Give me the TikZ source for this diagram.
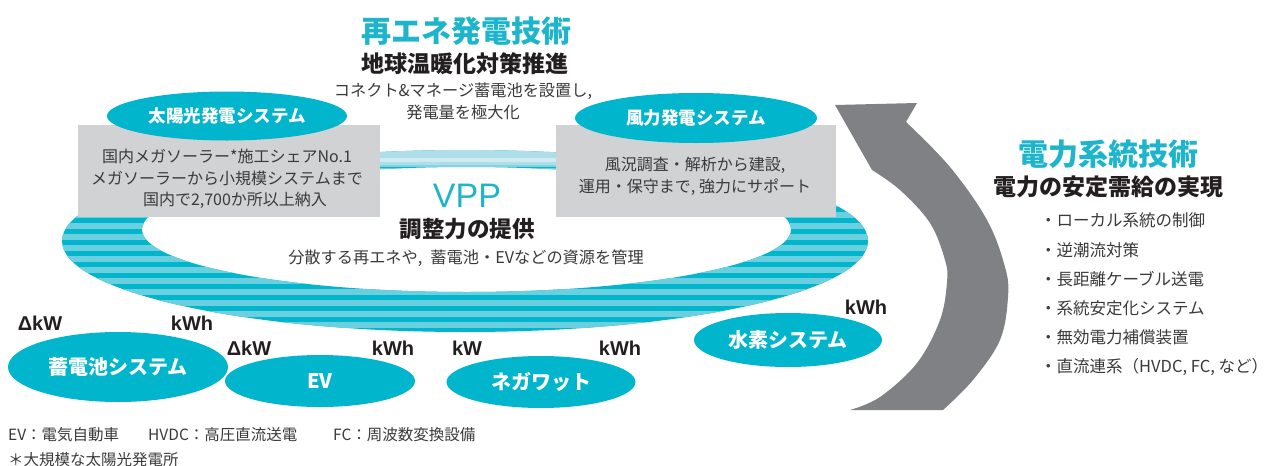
\documentclass[tikz,border=0pt]{standalone}
\usepackage{fontspec}
\setmainfont{Noto Sans CJK JP}
\newfontfamily\latinsans{Liberation Sans}
\usetikzlibrary{shapes.geometric}
\definecolor{teal1}{HTML}{00B5CC}
\definecolor{teallight}{HTML}{6ACFDF}
\definecolor{titleteal}{HTML}{1DB5CB}
\definecolor{boxgray}{HTML}{D1D2D4}
\definecolor{arrowgray}{HTML}{808184}
\definecolor{txt}{HTML}{3A3A3A}
\definecolor{darktxt}{HTML}{231F20}
\definecolor{bandlight}{HTML}{B0DEE8}
\definecolor{bandlighter}{HTML}{CDEBF1}
\definecolor{bandedge}{HTML}{86D2E0}
\begin{document}
\begin{tikzpicture}[x=1pt,y=-1pt,
  pill/.style={ellipse, fill=teal1, text=white, inner sep=0pt, font=\bfseries\fontsize{#1}{#1}\selectfont},
  graybox/.style={fill=boxgray, inner sep=0pt, anchor=north west},
  boxtext/.style={text=txt, align=center, inner sep=0pt, font=\fontsize{16}{21.5}\selectfont},
  bigtitle/.style={text=titleteal, inner sep=0pt, font=\bfseries\fontsize{30}{30}\selectfont},
  subtitle/.style={text=darktxt, inner sep=0pt, font=\bfseries\fontsize{23}{23}\selectfont},
  bodytext/.style={text=txt, inner sep=0pt, align=center, font=\fontsize{16.2}{22}\selectfont},
  unitlabel/.style={text=darktxt, inner sep=0pt, font=\latinsans\bfseries\fontsize{20}{20}\selectfont},
  bullet/.style={text=txt, inner sep=0pt, anchor=west, font=\fontsize{16.5}{16.5}\selectfont},
  footnote/.style={text=txt, inner sep=0pt, anchor=west, font=\fontsize{15.5}{15.5}\selectfont}
]
\useasboundingbox (0,0) rectangle (1270,466);
\fill[white] (0,0) rectangle (1270,466);

% striped VPP ring
\begin{scope}[even odd rule]
  \clip (465,241) ellipse [x radius=403, y radius=91]
        (466.5,229.5) ellipse [x radius=324.5, y radius=62.5];
  \fill[teal1] (55,145) rectangle (875,340);
  \foreach \yy in {168.3,179.3,...,340} {
    \fill[teallight] (55,\yy) rectangle (875,\yy+5.6);
  }
  \fill[bandlight] (55,145) rectangle (875,166);
  \fill[bandlighter] (55,158) rectangle (875,162);
  \fill[bandedge] (55,164.5) rectangle (875,167);
\end{scope}

% gray boxes
\node[graybox, minimum width=302pt, minimum height=92pt] (lbox) at (78,125) {};
\node[graybox, minimum width=280pt, minimum height=92pt] (rbox) at (556,125) {};

% system ellipses
\node[pill=17.5, minimum width=240pt, minimum height=49pt] (solar) at (227,116) {太陽光発電システム};
\node[pill=17.5, minimum width=242pt, minimum height=50pt] (wind) at (696,118) {風力発電システム};
\node[pill=20, minimum width=220pt, minimum height=70pt] (battery) at (118,367) {蓄電池システム};
\node[pill=20, minimum width=190pt, minimum height=52pt] (ev) at (320,381) {EV};
\node[pill=20, minimum width=189pt, minimum height=52pt] (nega) at (541,382) {ネガワット};
\node[pill=20, minimum width=188pt, minimum height=54pt] (h2) at (788,340) {水素システム};

% box texts
\node[boxtext] (ltxt) at (227,179) {国内メガソーラー*施工シェアNo.1\\メガソーラーから小規模システムまで\\　国内で2,700か所以上納入};
\node[boxtext, font=\fontsize{16}{22}\selectfont] (rtxt) at (695,176) {風況調査・解析から建設,\\運用・保守まで, 強力にサポート};

% top titles
\node[bigtitle] (t1) at (466,31) {再エネ発電技術};
\node[subtitle] (t1s) at (465,64) {地球温暖化対策推進};
\node[bodytext] (t1b) at (463,101) {コネクト\&マネージ蓄電池を設置し,\\発電量を極大化};

% VPP
\node[text=titleteal, inner sep=0pt, font=\latinsans\fontsize{34}{34}\selectfont] (vpp) at (467,196) {VPP};
\node[subtitle, font=\bfseries\fontsize{22.5}{22.5}\selectfont] (vpps) at (467,229) {調整力の提供};
\node[bodytext] (vppb) at (466,258) {分散する再エネや,\enspace 蓄電池・EVなどの資源を管理};

% unit labels
\node[unitlabel] (u1) at (40,323) {ΔkW};
\node[unitlabel] (u2) at (192,323) {kWh};
\node[unitlabel] (u3) at (249,348) {ΔkW};
\node[unitlabel] (u4) at (393,348) {kWh};
\node[unitlabel] (u5) at (467,348) {kW};
\node[unitlabel] (u6) at (620,348) {kWh};
\node[unitlabel] (u7) at (866,307) {kWh};

% big curved arrow
\fill[arrowgray] plot[smooth, tension=0.6] coordinates {(943,410) (973,380) (1000,340) (1008,297) (1005,267) (987,220) (950,167) (906,122)}
  -- (917,103) -- (835,105) -- (872,170)
  -- plot[smooth, tension=0.6] coordinates {(872,170) (900,190) (930,223) (945,260) (947,282) (940,320) (917,363) (880,397) (850,410)}
  -- cycle;

% right side
\node[bigtitle] (t2) at (1108,154) {電力系統技術};
\node[subtitle] (t2s) at (1108,187) {電力の安定需給の実現};
\node[bullet] (b1) at (1040,220) {・ローカル系統の制御};
\node[bullet] (b2) at (1040,250) {・逆潮流対策};
\node[bullet] (b3) at (1040,279) {・長距離ケーブル送電};
\node[bullet] (b4) at (1040,308) {・系統安定化システム};
\node[bullet] (b5) at (1040,337) {・無効電力補償装置};
\node[bullet] (b6) at (1040,367) {・直流連系（HVDC, FC, など）};

% footnotes
\node[footnote] (f1) at (8,435) {EV：電気自動車};
\node[footnote] (f2) at (148,435) {HVDC：高圧直流送電};
\node[footnote] (f3) at (333,435) {FC：周波数変換設備};
\node[footnote] (f4) at (8,460) {＊大規模な太陽光発電所};
\end{tikzpicture}
\end{document}
